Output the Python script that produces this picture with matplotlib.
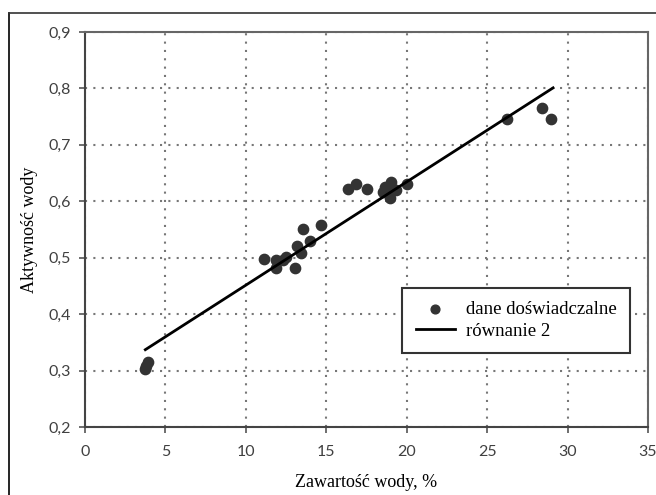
import matplotlib
matplotlib.use("Agg")
import matplotlib.pyplot as plt
from matplotlib.lines import Line2D

# data
water_content = [3.7, 3.8, 3.9, 11.1, 11.9, 11.9, 12.3, 12.5, 13.05, 13.2, 13.4, 13.55, 14.0, 14.7,
                 16.35, 16.85, 17.55, 18.55, 18.65, 18.8, 18.95, 19.05, 19.35, 20.0, 26.25, 28.4, 28.95]
water_activity = [0.302, 0.308, 0.315, 0.498, 0.496, 0.481, 0.496, 0.502, 0.481, 0.520, 0.508, 0.551, 0.529, 0.558,
                  0.621, 0.631, 0.621, 0.617, 0.626, 0.624, 0.605, 0.635, 0.620, 0.631, 0.746, 0.765, 0.746]
model_x = [3.75, 29.1]
model_y = [0.337, 0.801]

x_ticks = [0, 5, 10, 15, 20, 25, 30, 35]
y_ticks = [0.2, 0.3, 0.4, 0.5, 0.6, 0.7, 0.8, 0.9]
y_tick_labels = ["0,2", "0,3", "0,4", "0,5", "0,6", "0,7", "0,8", "0,9"]

fig = plt.figure(figsize=(6.56, 4.95), dpi=100)
ax = fig.add_axes([85/656, 1-427/495, (648-85)/656, (427-32)/495])

ax.scatter(water_content, water_activity, s=55, color="#333333", zorder=3,
           label="dane doświadczalne")
ax.plot(model_x, model_y, color="black", lw=2, zorder=4, label="równanie 2")

ax.set_xlim(0, 35)
ax.set_ylim(0.2, 0.9)
ax.set_xticks(x_ticks)
ax.set_yticks(y_ticks)
ax.set_yticklabels(y_tick_labels)
for lab in ax.get_xticklabels() + ax.get_yticklabels():
    lab.set_fontfamily("Lato")
    lab.set_fontsize(11.5)
    lab.set_color("#404040")
ax.tick_params(direction="out", length=4, width=1.2, color="#555555")
ax.tick_params(axis="x", pad=9)
ax.tick_params(axis="y", pad=6)

ax.grid(True, color="#777777", linestyle=(0, (1, 3)), lw=1.5)
ax.set_axisbelow(True)
for side in ["left", "bottom"]:
    ax.spines[side].set_color("#444444")
    ax.spines[side].set_linewidth(1.5)
for side in ["top", "right"]:
    ax.spines[side].set_color("#666666")
    ax.spines[side].set_linewidth(1.5)

ax.set_xlabel("Zawartość wody, %", family="Liberation Serif", fontsize=13, labelpad=11)
ax.set_ylabel("Aktywność wody", family="Liberation Serif", fontsize=13, labelpad=8)

leg = ax.legend(loc="lower right", bbox_to_anchor=((630-85)/563, (427-353)/395), borderaxespad=0,
                prop={"family": "Liberation Serif", "size": 13.5},
                frameon=True, fancybox=False, edgecolor="#333333", framealpha=1,
                handlelength=2.1, borderpad=0.7, labelspacing=0.25, handletextpad=0.6, markerscale=0.85)
leg.get_frame().set_linewidth(1.5)

# outer chart border (cropped)
fig.add_artist(Line2D([9/656, 9/656], [0, 1-13/495], color="black", lw=1.2, transform=fig.transFigure))
fig.add_artist(Line2D([9/656, 1], [1-13/495, 1-13/495], color="#333333", lw=1.2, transform=fig.transFigure))

fig.savefig("out.png", dpi=100)
